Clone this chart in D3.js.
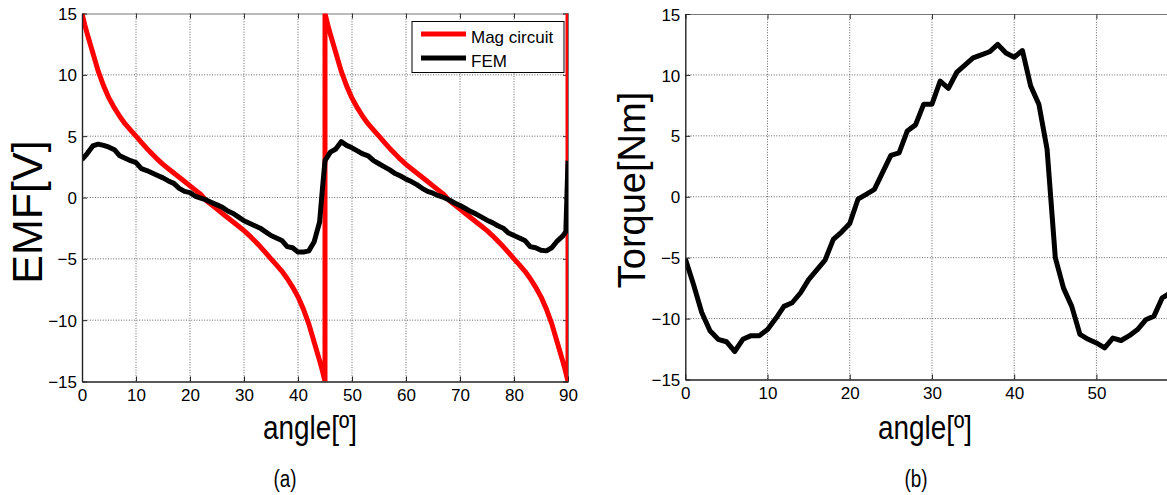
<!DOCTYPE html>
<html>
<head>
<meta charset="utf-8">
<script src="https://cdn.jsdelivr.net/npm/d3@7"></script>
<style>
  body { margin: 0; background: #fff; }
  svg { display: block; }
  text { font-family: "Liberation Sans", Arial, Helvetica, sans-serif; fill: #000; }
</style>
</head>
<body>
<svg id="fig" width="1167" height="495"></svg>
<script>
// ---- data -------------------------------------------------------------
const xTicks = [0, 10, 20, 30, 40, 50, 60, 70, 80, 90];
const yTicks = [-15, -10, -5, 0, 5, 10, 15];

const seriesNames = ["Mag circuit", "FEM"];
const seriesColors = ["#ff0000", "#000000"];

// magnetic-circuit EMF [V] vs rotor angle [deg]
const magAngle = [
  0, 0.5, 1, 2, 3, 4, 5, 6, 7, 8, 9, 10, 11, 12, 13, 14, 15, 16, 17, 18, 19, 20, 21, 22,
  23, 24, 25, 26, 27, 28, 29, 30, 31, 32, 33, 34, 35, 36, 37, 38, 39, 40, 41, 42, 43, 44, 44.5, 45,
  45, 45.5, 46, 47, 48, 49, 50, 51, 52, 53, 54, 55, 56, 57, 58, 59, 60, 61, 62, 63, 64, 65, 66, 67,
  68, 69, 70, 71, 72, 73, 74, 75, 76, 77, 78, 79, 80, 81, 82, 83, 84, 85, 86, 87, 88, 89, 89.5, 90, 90
];
const magEmf = [
  15.0, 14.1, 13.3, 11.8, 10.3, 9.1, 8.1, 7.3, 6.6, 6.0, 5.5, 5.0, 4.5, 4.0, 3.55, 3.1, 2.7, 2.35, 2.0, 1.65, 1.3, 0.95, 0.6, 0.25,
  -0.25, -0.6, -0.95, -1.3, -1.65, -2.0, -2.35, -2.7, -3.1, -3.55, -4.0, -4.5, -5.0, -5.5, -6.0, -6.6, -7.3, -8.1, -9.1, -10.3, -11.8, -13.3, -14.1, -15.0,
  15.0, 14.1, 13.3, 11.8, 10.3, 9.1, 8.1, 7.3, 6.6, 6.0, 5.5, 5.0, 4.5, 4.0, 3.55, 3.1, 2.7, 2.35, 2.0, 1.65, 1.3, 0.95, 0.6, 0.25,
  -0.25, -0.6, -0.95, -1.3, -1.65, -2.0, -2.35, -2.7, -3.1, -3.55, -4.0, -4.5, -5.0, -5.5, -6.0, -6.6, -7.3, -8.1, -9.1, -10.3, -11.8, -13.3, -14.1, -15.0, 15.0
];

// finite-element EMF [V]
const femAngle = [
  0, 1, 2, 3, 4, 5, 6, 7, 8, 9, 10, 11, 12, 13, 14, 15, 16, 17, 18, 19, 20, 21, 22,
  23, 24, 25, 26, 27, 28, 29, 30, 31, 32, 33, 34, 35, 36, 37, 38, 39, 40, 41, 42, 43, 44, 44.5, 45,
  46, 47, 48, 49, 50, 51, 52, 53, 54, 55, 56, 57, 58, 59, 60, 61, 62, 63, 64, 65, 66, 67,
  68, 69, 70, 71, 72, 73, 74, 75, 76, 77, 78, 79, 80, 81, 82, 83, 84, 85, 86, 87, 88, 89, 89.6, 90
];
const femEmf = [
  3.1, 3.6, 4.2, 4.35, 4.25, 4.1, 3.9, 3.4, 3.2, 3.0, 2.85, 2.35, 2.2, 2.0, 1.8, 1.6, 1.35, 1.15, 0.75, 0.5, 0.4, 0.1, -0.05,
  -0.2, -0.4, -0.6, -0.8, -1.1, -1.3, -1.6, -1.9, -2.1, -2.3, -2.5, -2.8, -3.1, -3.3, -3.5, -4.0, -4.1, -4.45, -4.45, -4.35, -3.6, -2.0, 0.6, 3.0,
  3.7, 3.95, 4.55, 4.25, 4.05, 3.8, 3.55, 3.4, 3.0, 2.75, 2.5, 2.25, 1.95, 1.75, 1.5, 1.3, 1.05, 0.75, 0.5, 0.35, 0.15, 0.0,
  -0.2, -0.45, -0.65, -0.9, -1.15, -1.35, -1.6, -1.85, -2.05, -2.3, -2.5, -2.9, -3.1, -3.3, -3.5, -4.0, -4.1, -4.3, -4.35, -4.1, -3.55, -3.15, -2.8, 3.0
];

// torque [Nm]
const torqueAngle = [
  0, 1, 2, 3, 4, 5, 6, 7, 8, 9, 10, 11, 12, 13, 14, 15, 16, 17, 18, 19, 20, 21, 22, 23, 24, 25, 26, 27, 28, 29,
  30, 31, 32, 33, 34, 35, 36, 37, 38, 39, 40, 41, 42, 43, 44, 45, 46, 47, 48, 49, 50, 51, 52, 53, 54, 55, 56, 57, 58, 59
];
const torque = [
  -5.1, -7.2, -9.5, -11.0, -11.7, -11.9, -12.7, -11.7, -11.4, -11.4, -10.9, -10.0, -9.0, -8.7, -7.9, -6.8, -6.0, -5.2, -3.5, -2.9,
  -2.2, -0.2, 0.2, 0.6, 2.0, 3.4, 3.6, 5.4, 5.9, 7.6, 7.6, 9.5, 8.9, 10.2, 10.8, 11.4, 11.65, 11.9, 12.5, 11.8,
  11.45, 12.0, 9.1, 7.6, 3.9, -5.0, -7.5, -9.0, -11.3, -11.7, -12.0, -12.4, -11.6, -11.8, -11.4, -10.9, -10.1, -9.8, -8.3, -7.9
];

// ---- drawing ----------------------------------------------------------
const svg = d3.select("#fig");
const W = 1167;

function drawPanel(opts) {
  const { x, y, id } = opts;
  const [xl, xr] = x.range();
  const [yb, yt] = y.range();
  const g = svg.append("g");
  // only ticks that land inside the figure get a label
  const shownX = xTicks.filter(d => x(d) <= W - 6);

  g.append("clipPath").attr("id", id)
    .append("rect")
    .attr("x", xl).attr("y", yt)
    .attr("width", xr - xl).attr("height", yb - yt);

  // dotted grid
  const grid = g.append("g").attr("stroke", "#555").attr("stroke-width", 0.9)
    .attr("stroke-dasharray", "1,1.6").attr("fill", "none");
  grid.selectAll("line.v").data(xTicks.slice(1, -1)).join("line")
    .attr("x1", d => x(d)).attr("x2", d => x(d))
    .attr("y1", yt).attr("y2", yb);
  grid.selectAll("line.h").data(yTicks.slice(1, -1)).join("line")
    .attr("x1", xl).attr("x2", xr)
    .attr("y1", d => y(d)).attr("y2", d => y(d));

  // box (top/right) with inward ticks
  const top = g.append("g").attr("transform", `translate(0,${yt})`)
    .call(d3.axisTop(x).tickValues(xTicks).tickSize(-5).tickFormat(""));
  const right = g.append("g").attr("transform", `translate(${xr},0)`)
    .call(d3.axisRight(y).tickValues(yTicks).tickSize(-5).tickFormat(""));
  [top, right].forEach(a => {
    a.select(".domain").attr("stroke", "#777").attr("stroke-width", 1);
    a.selectAll(".tick line").attr("stroke", "#333");
  });

  // series
  const plot = g.append("g").attr("clip-path", `url(#${id})`);
  opts.series.forEach(s => {
    const pts = s.xs.map((v, i) => [v, s.ys[i]]);
    plot.append("path")
      .datum(pts)
      .attr("fill", "none")
      .attr("stroke", s.color)
      .attr("stroke-width", s.width)
      .attr("stroke-linejoin", "round")
      .attr("stroke-linecap", "butt")
      .attr("d", d3.line().x(d => x(d[0])).y(d => y(d[1])));
  });

  // bottom and left axes
  const bottom = g.append("g").attr("transform", `translate(0,${yb})`)
    .call(d3.axisBottom(x).tickValues(shownX).tickSize(-5).tickPadding(7).tickSizeOuter(0));
  const left = g.append("g").attr("transform", `translate(${xl},0)`)
    .call(d3.axisLeft(y).tickValues(yTicks).tickSize(-5).tickPadding(5).tickSizeOuter(0));
  [bottom, left].forEach(a => {
    a.select(".domain").attr("stroke", "#222").attr("stroke-width", 1.4);
    a.selectAll(".tick line").attr("stroke", "#222");
    a.selectAll(".tick text").attr("font-size", 17).attr("font-family", null);
  });
  left.selectAll(".tick text").attr("dy", "0.36em");

  // axis titles and panel caption
  g.append("text")
    .attr("transform", `translate(${opts.yLabelX},${opts.yLabelY}) rotate(-90)`)
    .attr("text-anchor", "middle")
    .attr("font-size", opts.yLabelSize).text(opts.yLabel);
  g.append("text")
    .attr("transform", `translate(${opts.xLabelX},438.5) scale(0.82,1)`)
    .attr("text-anchor", "middle")
    .attr("font-size", 34).text("angle[º]");
  g.append("text")
    .attr("transform", `translate(${opts.captionX},487) scale(0.82,1)`)
    .attr("text-anchor", "middle")
    .attr("font-size", 23).text(opts.caption);
  return g;
}

// panel (a): EMF
const xA = d3.scaleLinear().domain([0, 90]).range([82, 568]);
const yA = d3.scaleLinear().domain([-15, 15]).range([381.5, 13.5]);
const gA = drawPanel({
  id: "clipA", x: xA, y: yA,
  yLabel: "EMF[V]", yLabelX: 42, yLabelY: 212, yLabelSize: 43,
  xLabelX: 310, caption: "(a)", captionX: 285,
  series: [
    { xs: magAngle, ys: magEmf, color: seriesColors[0], width: 5 },
    { xs: femAngle, ys: femEmf, color: seriesColors[1], width: 5 }
  ]
});

// legend
const lg = gA.append("g");
lg.append("rect").attr("x", 412).attr("y", 21.5).attr("width", 152).attr("height", 51)
  .attr("fill", "#fff").attr("stroke", "#000").attr("stroke-width", 1);
seriesNames.forEach((name, i) => {
  const yy = 34 + i * 24;
  lg.append("line").attr("x1", 421).attr("x2", 466).attr("y1", yy).attr("y2", yy)
    .attr("stroke", seriesColors[i]).attr("stroke-width", 5);
  lg.append("text").attr("x", 471).attr("y", yy + 8.5).attr("font-size", 17).text(name);
});

// panel (b): torque
const xB = d3.scaleLinear().domain([0, 90]).range([685.3, 685.3 + 740]);
const yB = d3.scaleLinear().domain([-15, 15]).range([379.5, 14]);
drawPanel({
  id: "clipB", x: xB, y: yB,
  yLabel: "Torque[Nm]", yLabelX: 645, yLabelY: 190, yLabelSize: 38,
  xLabelX: 925, caption: "(b)", captionX: 916,
  series: [
    { xs: torqueAngle, ys: torque, color: "#000", width: 5 }
  ]
});
</script>
</body>
</html>
